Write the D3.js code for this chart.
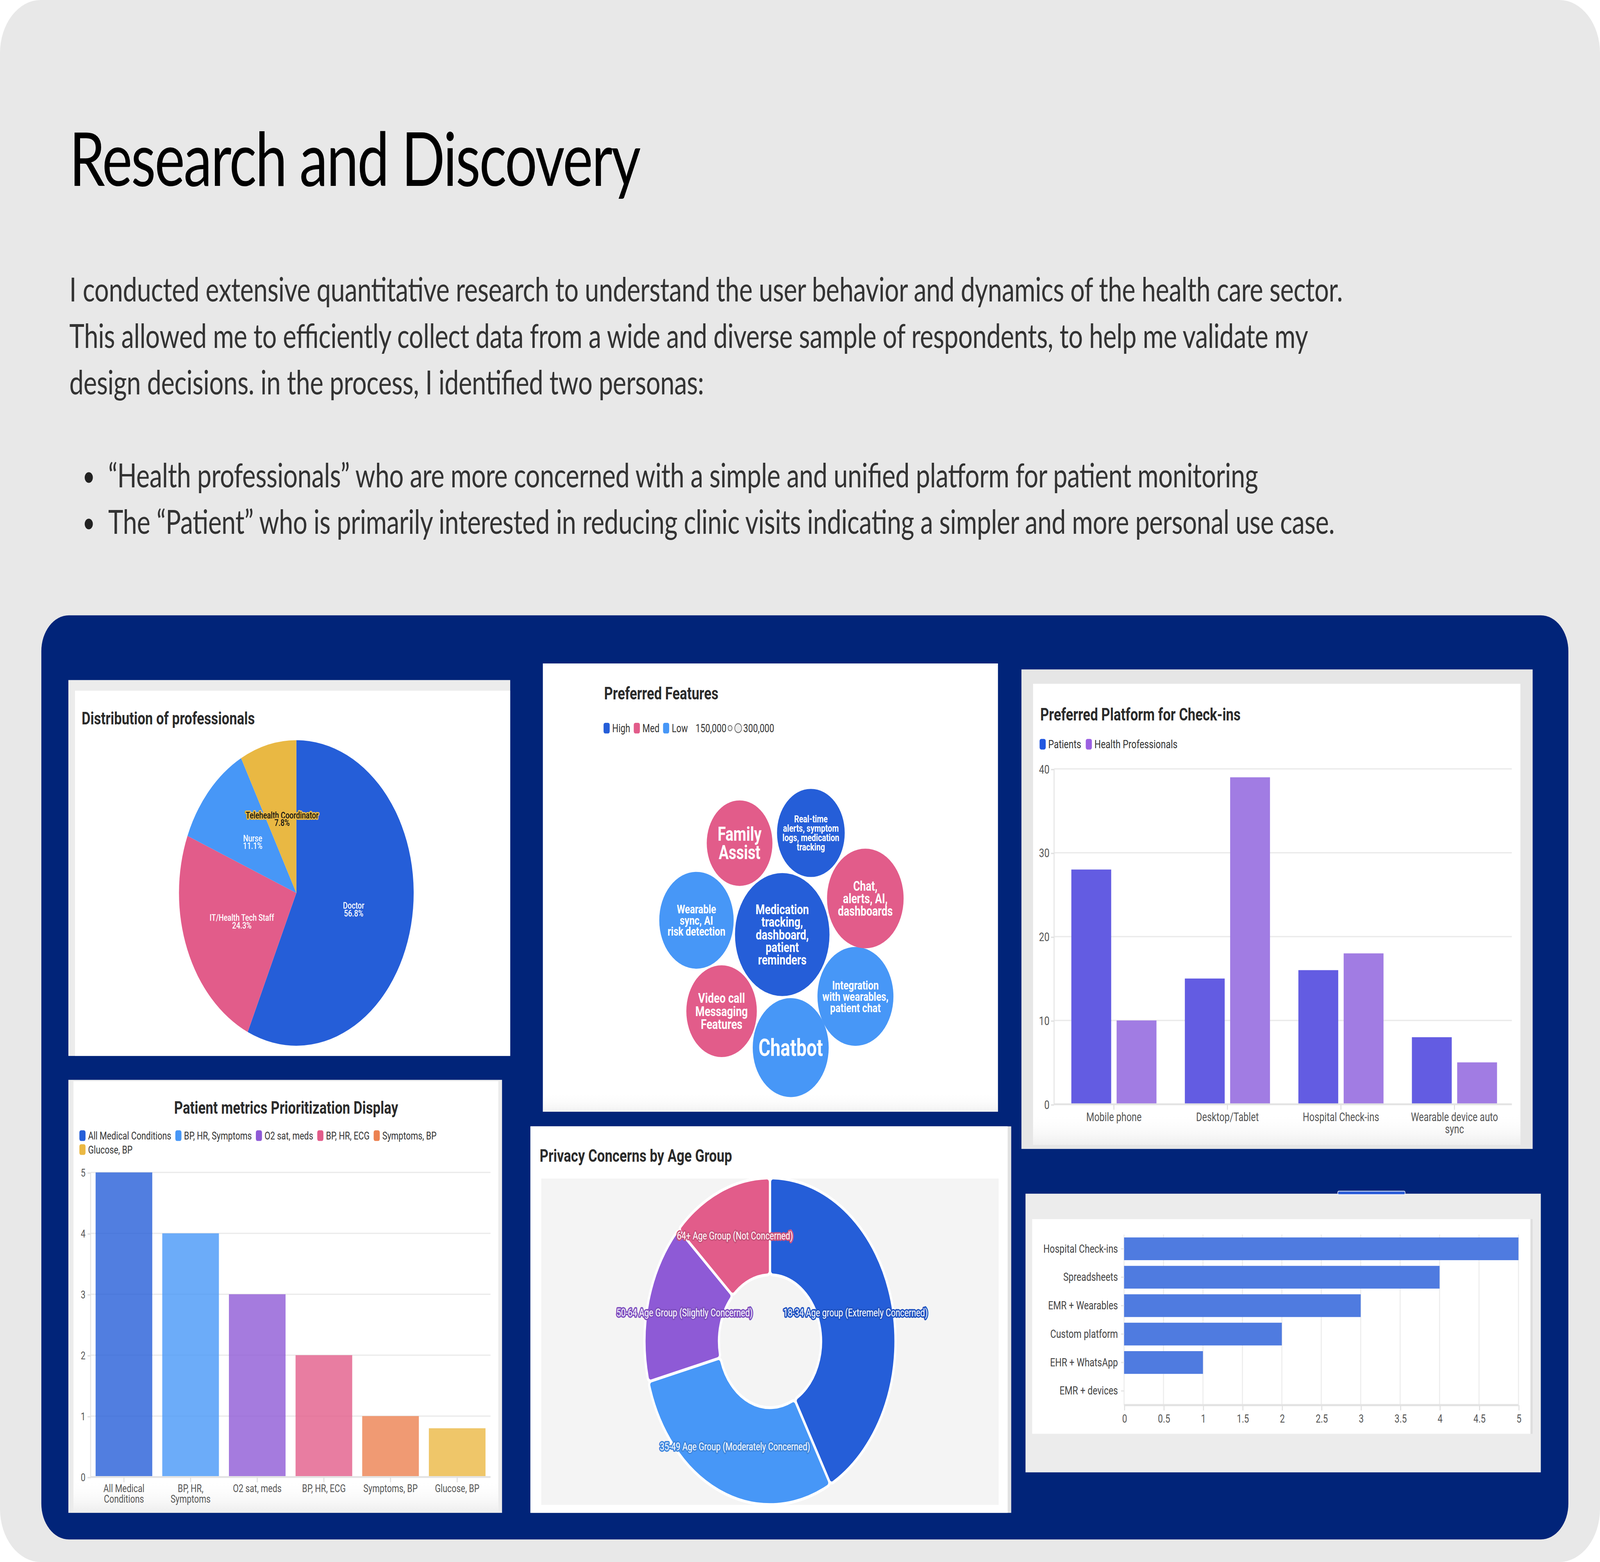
<!DOCTYPE html>
<html><head><meta charset="utf-8">
<script src="https://cdn.jsdelivr.net/npm/d3@7"></script>
<style>html,body{margin:0;padding:0;background:#fff;width:100%;height:100%;overflow:hidden;} svg{display:block;width:100vw;height:100vh}</style>
</head><body>
<svg id="c" viewBox="0 0 1568 1176" preserveAspectRatio="none"></svg>
<script>
// ---------------- DATA ----------------
const pageTitle = "Research and Discovery";
const introLines = [
  "I conducted extensive quantitative research to understand the user behavior and dynamics of the health care sector.",
  "This allowed me to efficiently collect data from a wide and diverse sample of respondents, to help me validate my",
  "design decisions. in the process, I identified two personas:"
];
const bulletLines = [
  "\u201CHealth professionals\u201D who are more concerned with a simple and unified platform for patient monitoring",
  "The \u201CPatient\u201D who is primarily interested in reducing clinic visits indicating a simpler and more personal use case."
];

// Distribution of professionals (pie)
const profLabels = ["Doctor", "IT/Health Tech Staff", "Nurse", "Telehealth Coordinator"];
const profShares = [56.8, 24.3, 11.1, 7.8];

// Preferred Features (bubbles)
const featureNames = [
  "Medication tracking, dashboard, patient reminders",
  "Integration with wearables, patient chat",
  "Chatbot",
  "Video call Messaging Features",
  "Wearable sync, AI risk detection",
  "Family Assist",
  "Real-time alerts, symptom logs, medication tracking",
  "Chat, alerts, AI, dashboards"
];
const featureLines = [
  ["Medication", "tracking,", "dashboard,", "patient", "reminders"],
  ["Integration", "with wearables,", "patient chat"],
  ["Chatbot"],
  ["Video call", "Messaging", "Features"],
  ["Wearable", "sync, AI", "risk detection"],
  ["Family", "Assist"],
  ["Real-time", "alerts, symptom", "logs, medication", "tracking"],
  ["Chat,", "alerts, AI,", "dashboards"]
];
const featureLevel = ["High", "Low", "Low", "Med", "Low", "Med", "High", "Med"];
const featureValue = [300000, 194000, 194000, 167000, 186000, 145000, 154000, 197000];
const levelNames = ["High", "Med", "Low"];
const sizeLegend = ["150,000", "300,000"];

// Preferred Platform for Check-ins (grouped bars)
const platformCats = ["Mobile phone", "Desktop/Tablet", "Hospital Check-ins", "Wearable device auto sync"];
const platformSeries = ["Patients", "Health Professionals"];
const platformPatients = [28, 15, 16, 8];
const platformPros = [10, 39, 18, 5];

// Patient metrics Prioritization Display
const metricCats = ["All Medical Conditions", "BP, HR, Symptoms", "O2 sat, meds", "BP, HR, ECG", "Symptoms, BP", "Glucose, BP"];
const metricVals = [5, 4, 3, 2, 1, 0.8];

// Privacy Concerns by Age Group (donut)
const ageLabels = ["18-34 Age group (Extremely Concerned)", "35-49 Age Group (Moderately Concerned)", "50-64 Age Group (Slightly Concerned)", "64+ Age Group (Not Concerned)"];
const ageShares = [42, 29, 16, 13];

// Tools (horizontal bars)
const toolCats = ["Hospital Check-ins", "Spreadsheets", "EMR + Wearables", "Custom platform", "EHR + WhatsApp", "EMR + devices"];
const toolVals = [5, 4, 3, 2, 1, 0];

// ---------------- STYLE ----------------
const F = 'Roboto, "Noto Sans", "Liberation Sans", sans-serif';
const FH = 'Lato, "Open Sans", sans-serif';
const profColors = ["#255ed8", "#e25c8a", "#4797f7", "#e9b843"];
const levelColors = {High: "#255ed8", Med: "#e25c8a", Low: "#4797f7"};
const featureFont = [10.4, 9.3, 17.8, 10.4, 9.2, 14.5, 7.5, 10.2];
const featureLH = [9.5, 8.5, 17, 9.9, 8.5, 13.8, 7.1, 9.4];
const platformBarColors = ["#635ce2", "#a17ce3"];
const platformLegendColors = ["#2257e0", "#9b61e2"];
const metricColors = ["#255ed8", "#4797f7", "#8e5ad6", "#e25c8a", "#ec8150", "#ebb843"];
const ageColors = ["#255ed8", "#4797f7", "#8e5ad6", "#e25c8a"];
const toolColor = "#4f7be0";

const svg = d3.select("#c");
const defs = svg.append("defs");
const fade = defs.append("linearGradient").attr("id", "fade").attr("x1", 0).attr("y1", 0).attr("x2", 0).attr("y2", 1);
fade.append("stop").attr("offset", "0%").attr("stop-color", "#ffffff").attr("stop-opacity", 0);
fade.append("stop").attr("offset", "100%").attr("stop-color", "#e4e4e4").attr("stop-opacity", 1);

// measuring helper
const meas = svg.append("text").attr("font-family", F).attr("visibility", "hidden");
function textW(str, fs, weight) {
  meas.attr("font-size", fs).attr("font-weight", weight || 400).text(str);
  return meas.node().getComputedTextLength();
}
function wrap(str, maxW, fs) {
  const words = str.split(" "); const lines = []; let cur = "";
  words.forEach(w => {
    const t = cur ? cur + " " + w : w;
    if (cur && textW(t, fs) > maxW) { lines.push(cur); cur = w; } else cur = t;
  });
  if (cur) lines.push(cur);
  return lines;
}
function legend(g, names, colors, x0, y, fs, maxX, rowH, gap) {
  let x = x0, yy = y;
  names.forEach((name, i) => {
    const w = textW(name, fs);
    const itemW = 6 + 2.5 + w;
    if (x + itemW > maxX && x > x0) { x = x0; yy += rowH; }
    g.append("rect").attr("x", x).attr("y", yy - 4).attr("width", 6).attr("height", 8).attr("rx", 1.6).attr("fill", colors[i]);
    g.append("text").attr("x", x + 8.5).attr("y", yy).attr("dy", "0.35em").attr("font-family", F).attr("font-size", fs).attr("fill", "#333").text(name);
    x += itemW + gap;
  });
  return x;
}
function title(g, x, y, str, anchor) {
  g.append("text").attr("x", x).attr("y", y).attr("font-family", F).attr("font-size", 13.3).attr("font-weight", 700)
    .attr("fill", "#2b2b2b").attr("text-anchor", anchor || "start").text(str);
}

// ---------------- PAGE ----------------
svg.append("rect").attr("width", 1568).attr("height", 1176).attr("fill", "#fff");
svg.append("rect").attr("width", 1568).attr("height", 1176).attr("rx", 40).attr("fill", "#e8e8e8");

svg.append("text").attr("x", 68).attr("y", 140).attr("font-family", FH).attr("font-size", 56).attr("fill", "#000")
  .attr("textLength", 560).attr("lengthAdjust", "spacing").text(pageTitle);
const introW = [1248, 1214, 622];
introLines.forEach((l, i) => {
  svg.append("text").attr("x", 68).attr("y", 227 + i * 35).attr("font-family", FH).attr("font-size", 25).attr("fill", "#333")
    .attr("textLength", introW[i]).attr("lengthAdjust", "spacing").text(l);
});
const bulletW = [1127, 1202];
bulletLines.forEach((l, i) => {
  svg.append("circle").attr("cx", 87).attr("cy", 359.5 + i * 35).attr("r", 4).attr("fill", "#222");
  svg.append("text").attr("x", 106).attr("y", 367 + i * 35).attr("font-family", FH).attr("font-size", 25).attr("fill", "#333")
    .attr("textLength", bulletW[i]).attr("lengthAdjust", "spacing").text(l);
});

// navy board
svg.append("rect").attr("x", 40.5).attr("y", 463.3).attr("width", 1496.5).attr("height", 695.7).attr("rx", 27).attr("fill", "#012479");

// ---------------- PANEL 1: PIE ----------------
{
  const g = svg.append("g");
  g.append("rect").attr("x", 67).attr("y", 512).attr("width", 433).attr("height", 283).attr("fill", "#ececec");
  g.append("rect").attr("x", 73.5).attr("y", 520).attr("width", 426.5).attr("height", 275).attr("fill", "#fff");
  title(g, 80, 545.3, "Distribution of professionals");
  const cx = 290.4, cy = 672.3, R = 115;
  const pie = d3.pie().sort(null).value(d => d)(profShares);
  const arc = d3.arc().innerRadius(0).outerRadius(R);
  const pg = g.append("g").attr("transform", `translate(${cx},${cy})`);
  pg.selectAll("path").data(pie).join("path").attr("d", arc).attr("fill", (d, i) => profColors[i]);
  pie.forEach((d, i) => {
    const [lx, ly] = arc.centroid(d);
    const dark = i === 3;
    const t = pg.append("text").attr("x", lx).attr("y", ly).attr("font-family", F).attr("font-size", 7).attr("font-weight", 500)
      .attr("text-anchor", "middle").attr("fill", dark ? "#111" : "#fff");
    if (dark) t.attr("stroke", profColors[i]).attr("stroke-width", 2).attr("paint-order", "stroke").attr("stroke-linejoin", "round");
    t.append("tspan").attr("x", lx).attr("dy", "-0.05em").text(profLabels[i]);
    t.append("tspan").attr("x", lx).attr("dy", "0.82em").text(d3.format(".1f")(profShares[i]) + "%");
  });
}

// ---------------- PANEL 2: BUBBLES ----------------
{
  const g = svg.append("g");
  g.append("rect").attr("x", 532).attr("y", 499.5).attr("width", 446).attr("height", 337.5).attr("fill", "#fff");
  g.append("rect").attr("x", 532).attr("y", 822).attr("width", 446).attr("height", 15).attr("fill", "url(#fade)").attr("opacity", 0.5);
  title(g, 592, 526.5, "Preferred Features");
  let x = legend(g, levelNames, levelNames.map(l => levelColors[l]), 591.5, 548.2, 8.5, 960, 11, 3.5);
  x += 4;
  g.append("text").attr("x", x).attr("y", 548.2).attr("dy", "0.35em").attr("font-family", F).attr("font-size", 8.5).attr("fill", "#333").text(sizeLegend[0]);
  x += textW(sizeLegend[0], 8.5) + 3.5;
  g.append("circle").attr("cx", x).attr("cy", 548.2).attr("r", 2).attr("fill", "#eee").attr("stroke", "#666").attr("stroke-width", 0.6);
  x += 6.5;
  g.append("circle").attr("cx", x + 1.5).attr("cy", 548.2).attr("r", 3.4).attr("fill", "#eee").attr("stroke", "#666").attr("stroke-width", 0.6);
  x += 6.5;
  g.append("text").attr("x", x).attr("y", 548.2).attr("dy", "0.35em").attr("font-family", F).attr("font-size", 8.5).attr("fill", "#333").text(sizeLegend[1]);

  const rScale = d3.scaleSqrt().domain([0, d3.max(featureValue)]).range([0, 46.3]);
  const center = {x: 766.6, y: 703.6};
  const ringN = featureNames.length - 1;
  const nodes = featureNames.map((n, i) => {
    const r = rScale(featureValue[i]);
    if (i === 0) return {i, r, x: center.x, y: center.y};
    const a = (33 + (i - 1) * 360 / ringN) * Math.PI / 180;
    const d = rScale(featureValue[0]) + r + 2;
    return {i, r, x: center.x + d * Math.cos(a), y: center.y + d * Math.sin(a)};
  });
  const bn = g.selectAll("g.b").data(nodes).join("g").attr("transform", d => `translate(${d.x},${d.y})`);
  bn.append("circle").attr("r", d => d.r).attr("fill", d => levelColors[featureLevel[d.i]]);
  bn.each(function (d) {
    const lines = featureLines[d.i], fs = featureFont[d.i], lh = featureLH[d.i];
    const t = d3.select(this).append("text").attr("font-family", F).attr("font-size", fs).attr("font-weight", 700)
      .attr("fill", "#fff").attr("text-anchor", "middle");
    lines.forEach((l, k) => {
      t.append("tspan").attr("x", 0).attr("y", (k - (lines.length - 1) / 2) * lh).attr("dy", "0.35em").text(l);
    });
  });
}

// ---------------- PANEL 3: PLATFORM GROUPED BARS ----------------
{
  const g = svg.append("g");
  g.append("rect").attr("x", 1001).attr("y", 504).attr("width", 501).attr("height", 361).attr("fill", "#e6e6e6");
  g.append("rect").attr("x", 1012.4).attr("y", 514.8).attr("width", 477.6).attr("height", 347.2).attr("fill", "#fff");
  g.append("rect").attr("x", 1012.4).attr("y", 838).attr("width", 477.6).attr("height", 24).attr("fill", "url(#fade)").attr("opacity", 0.6);
  title(g, 1019.4, 542.5, "Preferred Platform for Check-ins");
  legend(g, platformSeries, platformLegendColors, 1018.8, 560.3, 8.8, 1480, 11, 4.5);

  const x0 = d3.scaleBand().domain(platformCats).range([1036, 1481]).paddingInner(0.25).paddingOuter(0.125);
  const x1 = d3.scaleBand().domain(platformSeries).range([0, x0.bandwidth()]).paddingInner(0.12);
  const y = d3.scaleLinear().domain([0, 40]).range([831.4, 578.9]);
  g.selectAll("line.grid").data(y.ticks(4)).join("line").attr("class", "grid")
    .attr("x1", 1033).attr("x2", 1481.6).attr("y1", d => y(d)).attr("y2", d => y(d)).attr("stroke", "#ebebeb").attr("stroke-width", 1);
  g.append("line").attr("x1", 1033).attr("x2", 1033).attr("y1", 578.9).attr("y2", 831.4).attr("stroke", "#e6e6e6");
  const ya = g.append("g").attr("transform", "translate(1033,0)").call(d3.axisLeft(y).ticks(4).tickSize(3).tickPadding(1.5));
  ya.select(".domain").remove();
  ya.selectAll("line").attr("stroke", "#e0e0e0");
  ya.selectAll("text").attr("font-family", F).attr("font-size", 9.2).attr("fill", "#555");

  const rows = platformCats.map((c, i) => ({cat: c, vals: [platformPatients[i], platformPros[i]]}));
  const gg = g.selectAll("g.grp").data(rows).join("g").attr("transform", d => `translate(${x0(d.cat)},0)`);
  gg.selectAll("rect").data(d => d.vals.map((v, k) => ({v, k}))).join("rect")
    .attr("x", d => x1(platformSeries[d.k])).attr("width", x1.bandwidth())
    .attr("y", d => y(d.v)).attr("height", d => y(0) - y(d.v)).attr("fill", d => platformBarColors[d.k]);

  g.append("line").attr("x1", 1033).attr("x2", 1481.6).attr("y1", 831.4).attr("y2", 831.4).attr("stroke", "#e3e3e3").attr("stroke-width", 1.4);
  platformCats.forEach(c => {
    const cxp = x0(c) + x0.bandwidth() / 2;
    g.append("line").attr("x1", cxp).attr("x2", cxp).attr("y1", 831.4).attr("y2", 835.5).attr("stroke", "#e0e0e0");
    const lines = wrap(c, x0.step() * 0.85, 9);
    const t = g.append("text").attr("font-family", F).attr("font-size", 9).attr("fill", "#555").attr("text-anchor", "middle");
    lines.forEach((l, k) => t.append("tspan").attr("x", cxp).attr("y", 844 + k * 9.2).text(l));
  });
}

// ---------------- PANEL 4: PATIENT METRICS ----------------
{
  const g = svg.append("g");
  g.append("rect").attr("x", 67).attr("y", 813).attr("width", 425).attr("height", 326).attr("fill", "#ececec");
  g.append("rect").attr("x", 72).attr("y", 814).attr("width", 416.3).attr("height", 323.8).attr("fill", "#fff");
  g.append("rect").attr("x", 72).attr("y", 1114).attr("width", 416.3).attr("height", 23.8).attr("fill", "url(#fade)").attr("opacity", 0.6);
  title(g, 280.4, 838.6, "Patient metrics Prioritization Display", "middle");
  legend(g, metricCats, metricColors, 77.8, 855, 8.2, 470, 10.5, 4);

  const x = d3.scaleBand().domain(metricCats).range([88.8, 480.7]).paddingInner(0.15).paddingOuter(0.075);
  const y = d3.scaleLinear().domain([0, 5]).range([1112, 882.7]);
  g.selectAll("line.grid").data(y.ticks(5)).join("line").attr("class", "grid")
    .attr("x1", 88.8).attr("x2", 480.7).attr("y1", d => y(d)).attr("y2", d => y(d)).attr("stroke", "#ebebeb");
  g.append("line").attr("x1", 88.8).attr("x2", 88.8).attr("y1", 882.7).attr("y2", 1112).attr("stroke", "#e6e6e6");
  const ya = g.append("g").attr("transform", "translate(88.8,0)").call(d3.axisLeft(y).ticks(5).tickSize(3).tickPadding(2));
  ya.select(".domain").remove();
  ya.selectAll("line").attr("stroke", "#e0e0e0");
  ya.selectAll("text").attr("font-family", F).attr("font-size", 8.2).attr("fill", "#555");

  g.selectAll("rect.bar").data(metricVals).join("rect").attr("class", "bar")
    .attr("x", (d, i) => x(metricCats[i])).attr("width", x.bandwidth())
    .attr("y", d => y(d)).attr("height", d => y(0) - y(d))
    .attr("fill", (d, i) => metricColors[i]).attr("fill-opacity", 0.8);

  g.append("line").attr("x1", 88.8).attr("x2", 480.7).attr("y1", 1112).attr("y2", 1112).attr("stroke", "#e3e3e3").attr("stroke-width", 1.4);
  metricCats.forEach(c => {
    const cxp = x(c) + x.bandwidth() / 2;
    g.append("line").attr("x1", cxp).attr("x2", cxp).attr("y1", 1112).attr("y2", 1116).attr("stroke", "#e0e0e0");
    const lines = wrap(c, x.step() * 0.85, 8.2);
    const t = g.append("text").attr("font-family", F).attr("font-size", 8.2).attr("fill", "#555").attr("text-anchor", "middle");
    lines.forEach((l, k) => t.append("tspan").attr("x", cxp).attr("y", 1123.3 + k * 8).text(l));
  });
}

// ---------------- PANEL 5: DONUT ----------------
{
  const g = svg.append("g");
  g.append("rect").attr("x", 519.8).attr("y", 848).attr("width", 471.2).attr("height", 291).attr("fill", "#e2e2e2");
  g.append("rect").attr("x", 519.8).attr("y", 848).attr("width", 467.7).attr("height", 291).attr("fill", "#fff");
  title(g, 528.9, 874.6, "Privacy Concerns by Age Group");
  g.append("rect").attr("x", 530.4).attr("y", 887.3).attr("width", 448.3).attr("height", 245.7).attr("fill", "#f4f4f4");
  const cx = 754.6, cy = 1009.8;
  const pie = d3.pie().sort(null).value(d => d)(ageShares);
  const arc = d3.arc().innerRadius(50).outerRadius(123).cornerRadius(3);
  const dg = g.append("g").attr("transform", `translate(${cx},${cy})`);
  dg.selectAll("path").data(pie).join("path").attr("d", arc).attr("fill", (d, i) => ageColors[i])
    .attr("stroke", "#ffffff").attr("stroke-width", 2.2).attr("stroke-linejoin", "round");
  pie.forEach((d, i) => {
    const [lx, ly] = arc.centroid(d);
    dg.append("text").attr("x", lx).attr("y", ly).attr("dy", "0.35em").attr("text-anchor", "middle")
      .attr("font-family", F).attr("font-size", 8).attr("fill", "#fff")
      .attr("stroke", d3.color(ageColors[i]).darker(0.3)).attr("stroke-width", 2.2).attr("paint-order", "stroke").attr("stroke-linejoin", "round")
      .text(ageLabels[i]);
  });
}

// ---------------- PANEL 6: HORIZONTAL BARS ----------------
{
  const g = svg.append("g");
  g.append("rect").attr("x", 1005).attr("y", 898.7).attr("width", 505).attr("height", 209.8).attr("fill", "#ececec");
  g.append("rect").attr("x", 1311).attr("y", 896.8).attr("width", 66).attr("height", 2.6).attr("rx", 1).attr("fill", "#2a5bd7").attr("stroke", "#fff").attr("stroke-width", 0.5);
  g.append("rect").attr("x", 1011.5).attr("y", 917.8).attr("width", 490.5).attr("height", 161.7).attr("fill", "#dedede");
  g.append("rect").attr("x", 1011.5).attr("y", 917.8).attr("width", 488.3).attr("height", 161.7).attr("fill", "#fff");

  const x = d3.scaleLinear().domain([0, 5]).range([1101.6, 1488.1]);
  const y = d3.scaleBand().domain(toolCats).range([929.5, 1057.9]).paddingInner(0.2).paddingOuter(0.1);
  g.selectAll("line.grid").data(x.ticks(10)).join("line").attr("class", "grid")
    .attr("x1", d => x(d)).attr("x2", d => x(d)).attr("y1", 929.5).attr("y2", 1057.9).attr("stroke", "#ededed");
  g.selectAll("rect.bar").data(toolVals).join("rect").attr("class", "bar")
    .attr("x", x(0)).attr("y", (d, i) => y(toolCats[i])).attr("height", y.bandwidth())
    .attr("width", d => x(d) - x(0)).attr("fill", toolColor);
  g.append("line").attr("x1", x(0)).attr("x2", x(5)).attr("y1", 1057.9).attr("y2", 1057.9).attr("stroke", "#e3e3e3").attr("stroke-width", 1.6);
  const xa = g.append("g").attr("transform", "translate(0,1057.9)").call(d3.axisBottom(x).ticks(10).tickSize(4).tickPadding(3).tickFormat(d => String(d)));
  xa.select(".domain").remove();
  xa.selectAll("line").attr("stroke", "#e0e0e0");
  xa.selectAll("text").attr("font-family", F).attr("font-size", 8.6).attr("fill", "#555");
  const yaxis = g.append("g").attr("transform", `translate(${x(0)},0)`).call(d3.axisLeft(y).tickSize(3).tickPadding(3));
  yaxis.select(".domain").remove();
  yaxis.selectAll("line").attr("stroke", "#e6e6e6");
  yaxis.selectAll("text").attr("font-family", F).attr("font-size", 8.8).attr("fill", "#444");
}
meas.remove();
</script>
</body></html>
